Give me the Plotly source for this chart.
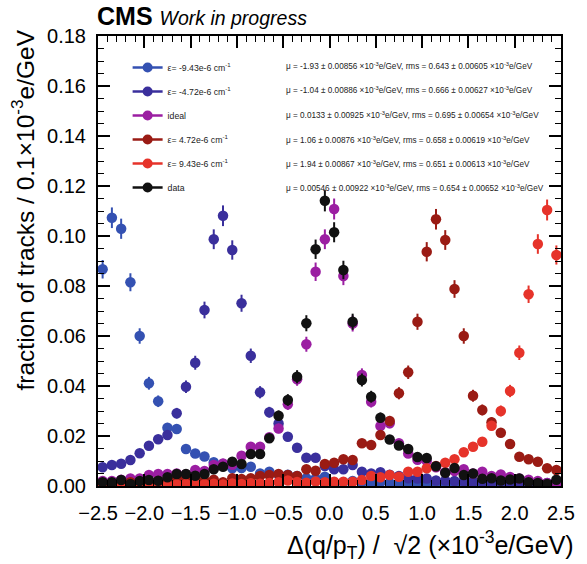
import numpy as np
import plotly.graph_objects as go

# 50 bins of width 0.1 (x10^-3 e/GeV) from -2.5 to 2.5
bin_edges = np.linspace(-2.5, 2.5, 51)
bin_centers = 0.5 * (bin_edges[:-1] + bin_edges[1:])

eps_m943 = [0.0867, 0.1073, 0.1029, 0.0815, 0.0600, 0.0411, 0.0339, 0.0233, 0.0228, 0.0148,
            0.0130, 0.0118, 0.0095, 0.0088, 0.0071, 0.0072, 0.0077, 0.0050, 0.0057, 0.0045,
            0.0045, 0.0040, 0.0031, 0.0030, 0.0037, 0.0015, 0.0015, 0.0020, 0.0015, 0.0012,
            0.0015, 0.0012, 0.0010, 0.0012, 0.0010, 0.0008, 0.0010, 0.0008, 0.0008, 0.0006,
            0.0008, 0.0006, 0.0005, 0.0005, 0.0004, 0.0005, 0.0004, 0.0003, 0.0004, 0.0003]
eps_m472 = [0.0075, 0.0084, 0.0089, 0.0104, 0.0131, 0.0161, 0.0187, 0.0204, 0.0291, 0.0397,
            0.0493, 0.0704, 0.0987, 0.1081, 0.0944, 0.0731, 0.0521, 0.0375, 0.0295, 0.0250,
            0.0197, 0.0153, 0.0113, 0.0113, 0.0080, 0.0067, 0.0067, 0.0084, 0.0057, 0.0050,
            0.0055, 0.0045, 0.0040, 0.0031, 0.0030, 0.0030, 0.0022, 0.0022, 0.0020, 0.0020,
            0.0018, 0.0018, 0.0016, 0.0015, 0.0015, 0.0014, 0.0013, 0.0012, 0.0012, 0.0010]
ideal = [0.0020, 0.0020, 0.0025, 0.0030, 0.0030, 0.0044, 0.0048, 0.0048, 0.0050, 0.0047,
         0.0064, 0.0060, 0.0084, 0.0090, 0.0085, 0.0121, 0.0157, 0.0157, 0.0195, 0.0230,
         0.0327, 0.0427, 0.0567, 0.0857, 0.0987, 0.1108, 0.0840, 0.0650, 0.0444, 0.0337,
         0.0240, 0.0251, 0.0171, 0.0130, 0.0105, 0.0100, 0.0075, 0.0055, 0.0060, 0.0067,
         0.0050, 0.0057, 0.0040, 0.0046, 0.0036, 0.0030, 0.0025, 0.0020, 0.0012, 0.0008]
eps_p472 = [0.0010, 0.0012, 0.0010, 0.0015, 0.0010, 0.0015, 0.0020, 0.0025, 0.0030, 0.0032,
            0.0025, 0.0022, 0.0025, 0.0015, 0.0031, 0.0028, 0.0031, 0.0040, 0.0044, 0.0048,
            0.0044, 0.0040, 0.0067, 0.0061, 0.0088, 0.0093, 0.0107, 0.0104, 0.0171, 0.0164,
            0.0204, 0.0260, 0.0371, 0.0455, 0.0657, 0.0937, 0.1067, 0.0984, 0.0788, 0.0600,
            0.0361, 0.0304, 0.0255, 0.0213, 0.0168, 0.0117, 0.0107, 0.0097, 0.0071, 0.0064]
eps_p943 = [0.0005, 0.0006, 0.0005, 0.0004, 0.0006, 0.0008, 0.0007, 0.0005, 0.0006, 0.0008,
            0.0010, 0.0007, 0.0009, 0.0006, 0.0010, 0.0008, 0.0011, 0.0009, 0.0012, 0.0015,
            0.0022, 0.0016, 0.0013, 0.0018, 0.0015, 0.0017, 0.0017, 0.0017, 0.0024, 0.0040,
            0.0035, 0.0044, 0.0037, 0.0057, 0.0057, 0.0071, 0.0080, 0.0093, 0.0107, 0.0135,
            0.0157, 0.0177, 0.0241, 0.0300, 0.0380, 0.0533, 0.0767, 0.0968, 0.1104, 0.0924]
data = [0.0015, 0.0015, 0.0024, 0.0008, 0.0020, 0.0024, 0.0021, 0.0035, 0.0048, 0.0048,
        0.0041, 0.0048, 0.0067, 0.0077, 0.0097, 0.0088, 0.0128, 0.0128, 0.0191, 0.0281,
        0.0344, 0.0437, 0.0651, 0.0947, 0.1141, 0.1015, 0.0864, 0.0657, 0.0424, 0.0357,
        0.0273, 0.0186, 0.0162, 0.0148, 0.0116, 0.0112, 0.0079, 0.0053, 0.0072, 0.0044,
        0.0050, 0.0029, 0.0031, 0.0022, 0.0026, 0.0030, 0.0015, 0.0012, 0.0008, 0.0025]

N_TRACKS = 6300  # approximate sample size, for statistical error bars

series_names = ["ε= -9.43e-6 cm<sup>-1</sup>", "ε= -4.72e-6 cm<sup>-1</sup>", "ideal",
                "ε= 4.72e-6 cm<sup>-1</sup>", "ε= 9.43e-6 cm<sup>-1</sup>", "data"]
series_values = [eps_m943, eps_m472, ideal, eps_p472, eps_p943, data]
series_colors = ["#3451b2", "#3a2f9c", "#9b1ea2", "#9a1b14", "#e6332a", "#111111"]
stats_text = [
    "μ = -1.93 ± 0.00856 ×10<sup>-3</sup>e/GeV, rms = 0.643 ± 0.00605 ×10<sup>-3</sup>e/GeV",
    "μ = -1.04 ± 0.00886 ×10<sup>-3</sup>e/GeV, rms = 0.666 ± 0.00627 ×10<sup>-3</sup>e/GeV",
    "μ = 0.0133 ± 0.00925 ×10<sup>-3</sup>e/GeV, rms = 0.695 ± 0.00654 ×10<sup>-3</sup>e/GeV",
    "μ = 1.06 ± 0.00876 ×10<sup>-3</sup>e/GeV, rms = 0.658 ± 0.00619 ×10<sup>-3</sup>e/GeV",
    "μ = 1.94 ± 0.00867 ×10<sup>-3</sup>e/GeV, rms = 0.651 ± 0.00613 ×10<sup>-3</sup>e/GeV",
    "μ = 0.00546 ± 0.00922 ×10<sup>-3</sup>e/GeV, rms = 0.654 ± 0.00652 ×10<sup>-3</sup>e/GeV",
]

FONT = "Liberation Sans, Arial, Helvetica, sans-serif"
fig = go.Figure()

for i, (name, vals, col) in enumerate(zip(series_names, series_values, series_colors)):
    v = np.array(vals)
    err = np.sqrt(v / N_TRACKS)
    fig.add_trace(go.Scatter(
        x=bin_centers, y=v, mode="markers", showlegend=False,
        marker=dict(color=col, size=10.5, line=dict(width=0)),
        error_y=dict(type="data", array=err, visible=True, color=col, thickness=2, width=0),
    ))
    fig.add_trace(go.Scatter(
        x=[None], y=[None], mode="lines+markers", name=name, legendgroup=f"g{i}",
        line=dict(color=col, width=2.5), marker=dict(color=col, size=10),
    ))

# plot area in pixels
L, R, T, B = 98, 20, 36, 78
W, H = 587, 564
pw, ph = W - L - R, H - T - B

def px_to_paper(xp, yp):
    return (xp - L) / pw, (H - B - yp) / ph

annotations = []
row_y = [66, 90.5, 115, 139.5, 164, 188]
for txt, yr in zip(stats_text, row_y):
    xx, yy = px_to_paper(286, yr)
    annotations.append(dict(x=xx, y=yy, xref="paper", yref="paper", text=txt, showarrow=False,
                            xanchor="left", yanchor="middle",
                            font=dict(family=FONT, size=8.2, color="#222")))

# CMS label
xx, yy = px_to_paper(96, 16)
annotations.append(dict(x=xx, y=yy, xref="paper", yref="paper",
                        text="<b>CMS</b>&nbsp;<i><span style='font-size:19.5px'>Work in progress</span></i>",
                        showarrow=False, xanchor="left", yanchor="middle", borderpad=0,
                        font=dict(family=FONT, size=25, color="black")))
# y title
xx, yy = px_to_paper(22, 27)
annotations.append(dict(x=xx, y=yy, xref="paper", yref="paper", textangle=-90,
                        text="fraction of tracks / 0.1×10<sup>-3</sup>e/GeV",
                        showarrow=False, xanchor="center", yanchor="top",
                        font=dict(family=FONT, size=24.5, color="black")))
# x title
xx, yy = px_to_paper(582, 545)
annotations.append(dict(x=xx, y=yy, xref="paper", yref="paper",
                        text="Δ(q/p<sub>T</sub>) /&nbsp; √2 (×10<sup>-3</sup>e/GeV)",
                        showarrow=False, xanchor="right", yanchor="middle",
                        font=dict(family=FONT, size=25, color="black")))

lx, ly = px_to_paper(128, 53)
fig.update_layout(
    width=W, height=H,
    margin=dict(l=L, r=R, t=T, b=B, pad=0),
    paper_bgcolor="white", plot_bgcolor="white",
    font=dict(family=FONT, size=20, color="black"),
    showlegend=True,
    legend=dict(x=lx, y=ly, xanchor="left", yanchor="top", bgcolor="rgba(0,0,0,0)",
                font=dict(family=FONT, size=8.7, color="#222"), tracegroupgap=5,
                itemsizing="trace"),
    annotations=annotations,
    xaxis=dict(range=[-2.5, 2.5], tickmode="linear", tick0=-2.5, dtick=0.5, tickformat=".1f",
               ticks="inside", ticklen=12, tickwidth=1.5, tickcolor="black",
               minor=dict(ticks="inside", ticklen=6, dtick=0.1, tickwidth=1.2, tickcolor="black"),
               showline=True, linewidth=2, linecolor="black", mirror="ticks",
               showgrid=False, zeroline=False, tickfont=dict(size=20), ticklabelstandoff=8),
    yaxis=dict(range=[0, 0.18], tickmode="linear", tick0=0, dtick=0.02, tickformat=".2f",
               ticks="inside", ticklen=12, tickwidth=1.5, tickcolor="black",
               minor=dict(ticks="inside", ticklen=6, dtick=0.005, tickwidth=1.2, tickcolor="black"),
               showline=True, linewidth=2, linecolor="black", mirror="ticks",
               showgrid=False, zeroline=False, tickfont=dict(size=20), ticklabelstandoff=6),
)

fig.write_html("out.html")
